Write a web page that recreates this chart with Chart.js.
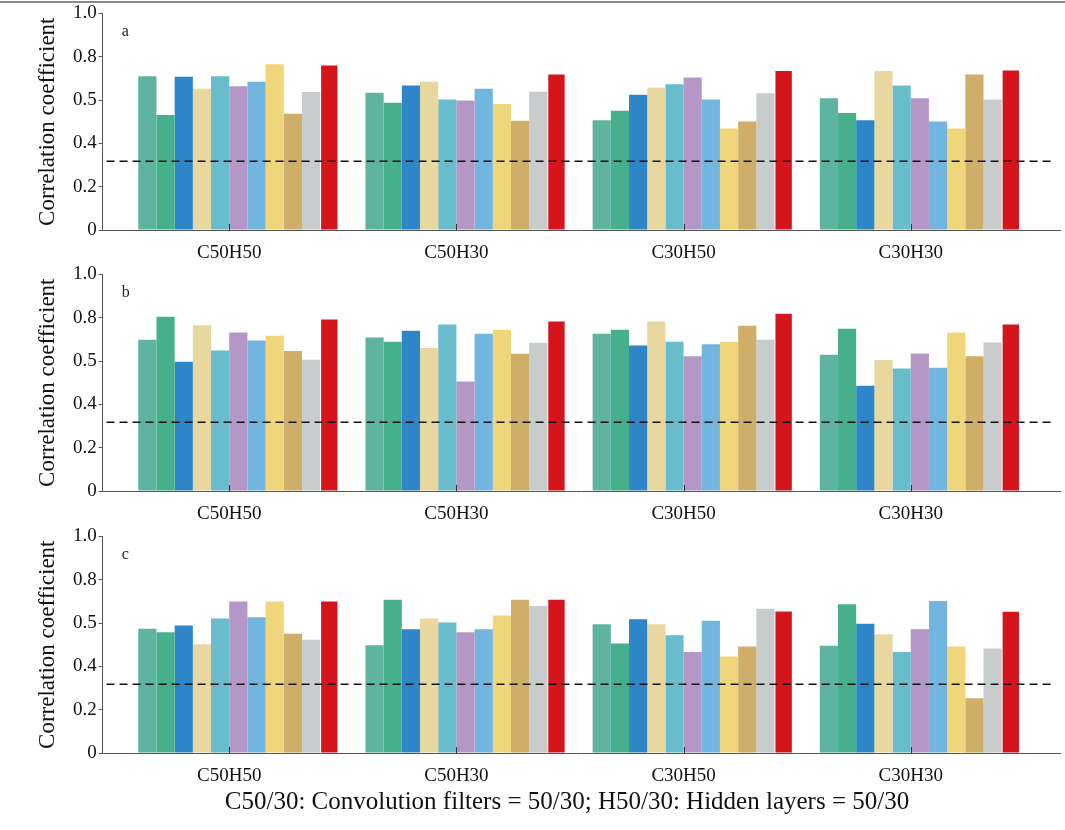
<!DOCTYPE html>
<html>
<head>
<meta charset="utf-8">
<title>Correlation coefficient</title>
<script src="https://cdn.jsdelivr.net/npm/chart.js@4.4.0/dist/chart.umd.min.js"></script>
<style>
  body { margin: 0; background: #fff; }
  #page { position: relative; width: 1065px; height: 830px; overflow: hidden; font-family: "Liberation Serif", serif; }
  .panel { position: absolute; left: 0; width: 1065px; height: 262px; }
  #topline { position: absolute; left: 0; top: 1px; width: 1065px; border-top: 2px solid #8a8a8a; }
  #note { position: absolute; left: 0; width: 1134px; top: 787px; text-align: center; font-size: 25px; color: #111; }
</style>
</head>
<body>
<div id="page">
  <div id="topline"></div>
  <div class="panel" style="top:0px"><canvas id="chartA"></canvas></div>
  <div class="panel" style="top:261px"><canvas id="chartB"></canvas></div>
  <div class="panel" style="top:523px"><canvas id="chartC"></canvas></div>
  <div id="note">C50/30: Convolution filters = 50/30; H50/30: Hidden layers = 50/30</div>
</div>
<script>
var categories = ['C50H50', 'C50H30', 'C30H50', 'C30H30'];
var yTickLabels = ['0', '0.2', '0.4', '0.5', '0.8', '1.0'];
var threshold = 0.317;
var thresholdX = [0.46, 4.62];
var xRange = [0.443, 4.657];

// one row per category, 10 model bars then the red bar
var panelA = [
    [0.710, 0.531, 0.707, 0.652, 0.710, 0.664, 0.685, 0.765, 0.537, 0.637, 0.759],
    [0.634, 0.588, 0.667, 0.685, 0.602, 0.598, 0.652, 0.582, 0.504, 0.638, 0.718],
    [0.507, 0.551, 0.624, 0.658, 0.673, 0.704, 0.602, 0.469, 0.501, 0.631, 0.734],
    [0.608, 0.540, 0.507, 0.734, 0.667, 0.608, 0.501, 0.469, 0.718, 0.602, 0.736]];
var panelB = [
    [0.698, 0.805, 0.597, 0.765, 0.649, 0.732, 0.695, 0.717, 0.646, 0.606, 0.792],
    [0.709, 0.689, 0.740, 0.660, 0.769, 0.505, 0.726, 0.745, 0.634, 0.685, 0.783],
    [0.726, 0.745, 0.672, 0.783, 0.689, 0.622, 0.678, 0.689, 0.763, 0.698, 0.818],
    [0.629, 0.749, 0.486, 0.605, 0.565, 0.635, 0.569, 0.732, 0.622, 0.686, 0.769]];
var panelC = [
    [0.574, 0.557, 0.589, 0.502, 0.621, 0.699, 0.627, 0.699, 0.551, 0.523, 0.699],
    [0.498, 0.707, 0.571, 0.621, 0.603, 0.557, 0.571, 0.635, 0.707, 0.679, 0.707],
    [0.594, 0.505, 0.617, 0.594, 0.544, 0.466, 0.610, 0.446, 0.492, 0.666, 0.653],
    [0.495, 0.687, 0.597, 0.548, 0.466, 0.571, 0.702, 0.492, 0.253, 0.482, 0.652]];

var colors = [
    'rgb(94,180,160)',
    'rgb(70,176,140)',
    'rgb(46,134,200)',
    'rgb(232,216,160)',
    'rgb(104,188,204)',
    'rgb(180,151,198)',
    'rgb(114,182,224)',
    'rgb(240,214,122)',
    'rgb(207,174,106)',
    'rgb(200,204,204)',
    'rgb(212,22,28)'];

var serif = 'Liberation Serif';

var panelDecor = {
    id: 'panelDecor',
    afterDatasetsDraw: function (chart, args, opts) {
        var ctx = chart.ctx;
        var area = chart.chartArea;
        var xs = chart.scales.x;
        ctx.save();
        // small inward ticks on the x axis
        ctx.strokeStyle = '#333';
        ctx.lineWidth = 1;
        for (var i = 0; i < xs.ticks.length; i++) {
            var px = Math.round(xs.getPixelForTick(i)) + 0.5;
            ctx.beginPath();
            ctx.moveTo(px, area.bottom);
            ctx.lineTo(px, area.bottom - 6);
            ctx.stroke();
        }
        // panel letter
        ctx.fillStyle = '#222';
        ctx.font = '16px "' + serif + '"';
        ctx.textBaseline = 'middle';
        ctx.fillText(opts.letter, area.left + 19, area.top + 18);
        ctx.restore();
    }
};

function makePanel(id, rows, letter)
{
    var datasets = [];
    datasets.push({
        type: 'line',
        order: 0,
        data: [{x: thresholdX[0], y: threshold}, {x: thresholdX[1], y: threshold}],
        borderColor: '#111',
        borderWidth: 1.5,
        borderDash: [8, 5],
        pointRadius: 0,
        fill: false
    });
    // empty slot so the ten model bars are centred on the tick
    datasets.push({ type: 'bar', order: 1, data: [], backgroundColor: 'rgba(0,0,0,0)' });
    for (var s = 0; s < colors.length; s++) {
        var pts = [];
        for (var c = 0; c < categories.length; c++) {
            pts.push({x: c + 1, y: rows[c][s]});
        }
        datasets.push({
            type: 'bar',
            order: 1,
            data: pts,
            backgroundColor: colors[s],
            borderWidth: 0,
            categoryPercentage: 0.961,
            barPercentage: s === colors.length - 1 ? 0.9 : 1.0
        });
    }

    return new Chart(id, {
        data: { datasets: datasets },
        plugins: [panelDecor],
        options: {
            responsive: false,
            animation: false,
            layout: { padding: { top: 12, right: 5, bottom: 0, left: 0 } },
            plugins: {
                legend: { display: false },
                tooltip: { enabled: false },
                panelDecor: { letter: letter }
            },
            scales: {
                x: {
                    type: 'linear',
                    offset: false,
                    min: xRange[0],
                    max: xRange[1],
                    afterFit: function (s) { s.height = 32; },
                    grid: { offset: false, drawOnChartArea: false, drawTicks: false },
                    border: { color: '#555', width: 1 },
                    ticks: {
                        stepSize: 1,
                        includeBounds: false,
                        autoSkip: false,
                        maxRotation: 0,
                        padding: 12,
                        color: '#111',
                        font: { family: serif, size: 19 },
                        callback: function (v) { return categories[v - 1] || ''; }
                    }
                },
                y: {
                    min: 0,
                    max: 1,
                    afterFit: function (s) { s.width = 102.7; },
                    grid: { drawOnChartArea: false, tickLength: 4, color: '#555' },
                    border: { color: '#555', width: 1 },
                    ticks: {
                        stepSize: 0.2,
                        padding: 2,
                        color: '#111',
                        font: { family: serif, size: 19 },
                        callback: function (v) { return yTickLabels[Math.round(v / 0.2)]; }
                    },
                    title: {
                        display: true,
                        text: 'Correlation coefficient',
                        color: '#111',
                        font: { family: serif, size: 23 },
                        padding: { top: 34, bottom: 0 }
                    }
                }
            }
        }
    });
}

document.getElementById('chartA').width = 1065;
document.getElementById('chartA').height = 262;
document.getElementById('chartB').width = 1065;
document.getElementById('chartB').height = 262;
document.getElementById('chartC').width = 1065;
document.getElementById('chartC').height = 262;

var chartA = makePanel('chartA', panelA, 'a');
var chartB = makePanel('chartB', panelB, 'b');
var chartC = makePanel('chartC', panelC, 'c');
</script>
</body>
</html>
